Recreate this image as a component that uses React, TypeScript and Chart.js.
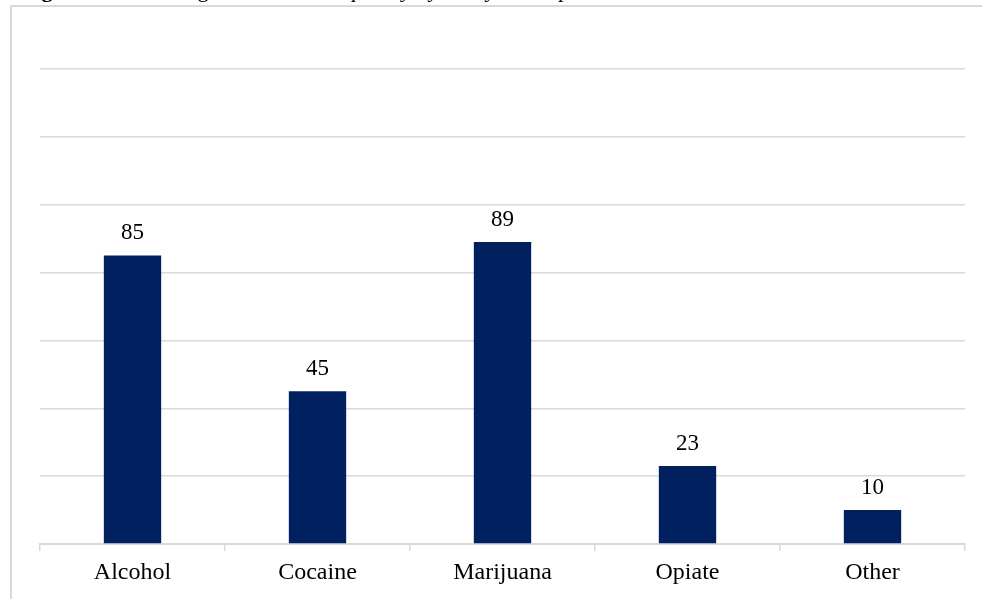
import React, { useEffect, useRef } from "react";
import { Chart, registerables } from "chart.js";

Chart.register(...registerables);

const categories = ["Alcohol", "Cocaine", "Marijuana", "Opiate", "Other"];
const counts = [85, 45, 89, 23, 10];
const yMax = 140;
const yStep = 20;

const FONT = "'Liberation Serif', 'Times New Roman', serif";

const valueLabels = {
  id: "valueLabels",
  afterDatasetsDraw(chart: any) {
    const ctx = chart.ctx;
    const meta = chart.getDatasetMeta(0);
    ctx.save();
    ctx.font = `23px ${FONT}`;
    ctx.fillStyle = "#000000";
    ctx.textAlign = "center";
    ctx.textBaseline = "bottom";
    meta.data.forEach((bar: any, i: number) => {
      ctx.fillText(String(counts[i]), bar.x, bar.y - 11);
    });
    ctx.restore();
  },
};

export default function App() {
  const ref = useRef<HTMLCanvasElement>(null);
  useEffect(() => {
    if (!ref.current) return;
    const chart = new Chart(ref.current, {
      type: "bar",
      data: {
        labels: categories,
        datasets: [
          {
            data: counts,
            backgroundColor: "#002060",
            categoryPercentage: 1,
            barPercentage: 0.31,
          },
        ],
      },
      options: {
        animation: false,
        responsive: false,
        maintainAspectRatio: false,
        layout: { padding: { left: 40, right: 17, top: 69, bottom: 0 } },
        plugins: {
          legend: { display: false },
          tooltip: { enabled: false },
          title: { display: false },
        },
        scales: {
          x: {
            grid: {
              display: true,
              offset: true,
              drawOnChartArea: false,
              drawTicks: true,
              tickLength: 7,
              color: "#d9d9d9",
              lineWidth: 1.5,
            },
            border: { display: true, color: "#d9d9d9", width: 2 },
            ticks: {
              color: "#000000",
              font: { family: FONT, size: 24 },
              padding: 7,
              maxRotation: 0,
            },
            afterFit: (s: any) => {
              s.height = 55;
            },
          },
          y: {
            min: 0,
            max: yMax,
            ticks: { display: false, stepSize: yStep },
            grid: { color: "#d9d9d9", lineWidth: 1.5, drawTicks: false },
            border: { display: false },
            afterFit: (s: any) => {
              s.width = 0;
            },
          },
        },
      },
      plugins: [valueLabels],
    });
    return () => chart.destroy();
  }, []);

  return (
    <div
      style={{
        position: "fixed",
        left: 0,
        top: 0,
        width: 982,
        height: 599,
        overflow: "hidden",
        background: "#ffffff",
      }}
    >
      <div
        style={{
          position: "absolute",
          left: 22,
          top: -20,
          fontFamily: FONT,
          fontSize: 22,
          lineHeight: "20px",
          whiteSpace: "nowrap",
          color: "#000",
        }}
      >
        <b>Figure 1.</b> Main Drug Used Most Frequently by Study Participants
      </div>
      <div
        style={{
          position: "absolute",
          left: 10,
          top: 5,
          width: 1000,
          height: 620,
          border: "2px solid #d9d9d9",
          background: "#ffffff",
          boxSizing: "border-box",
        }}
      />
      <canvas
        ref={ref}
        width={982}
        height={599}
        style={{ position: "absolute", left: 0, top: 0, width: 982, height: 599 }}
      />
    </div>
  );
}
